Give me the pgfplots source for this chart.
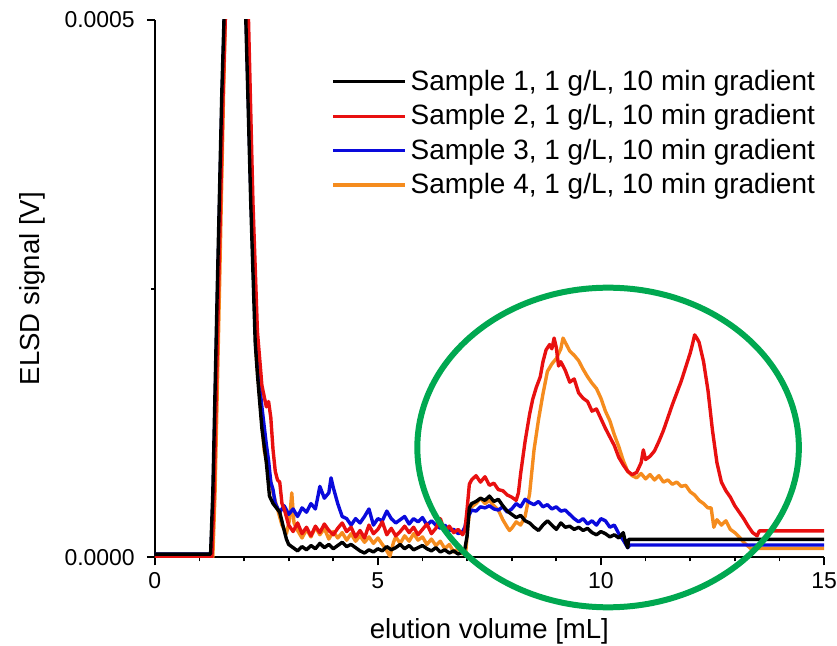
\documentclass[border=0pt]{standalone}
\usepackage{fontspec}
\setmainfont{Liberation Sans}
\usepackage{pgfplots}
\pgfplotsset{compat=1.18}
\definecolor{sred}{RGB}{232,16,16}
\definecolor{sblue}{RGB}{10,10,220}
\definecolor{sorange}{RGB}{245,140,30}
\definecolor{egreen}{RGB}{0,168,80}
\begin{document}
\begin{tikzpicture}
\useasboundingbox (-77.5pt,-44pt) rectangle (341.5pt,279pt);
\begin{axis}[
  scale only axis, width=335pt, height=269pt,
  xmin=0, xmax=15, ymin=0, ymax=0.0005,
  axis x line=bottom, axis y line=left,
  axis line style={line width=0.9pt, -},
  tick align=outside,
  major tick length=4pt, minor tick length=2pt,
  every tick/.style={black, line width=0.9pt},
  xtick={0,5,10,15}, minor x tick num=4,
  ytick={0,0.0005}, minor ytick={0.00025},
  scaled y ticks=false,
  /pgf/number format/assume math mode=true,
  tick label style={font=\fontsize{11.5}{13}\selectfont},
  yticklabel style={xshift=-2.5pt, /pgf/number format/.cd, fixed, fixed zerofill, precision=4},
  xlabel={elution volume [mL]}, ylabel={ELSD signal [V]},
  label style={font=\fontsize{13.8}{16}\selectfont},
  xlabel style={yshift=-8pt},
  ylabel style={yshift=3pt},
  legend style={draw=none, fill=none, at={(0.993,0.915)}, anchor=north east,
    font=\fontsize{14}{16}\selectfont, row sep=1.6pt, inner sep=0pt},
  legend cell align=left,
  legend image code/.code={\draw[#1] (0pt,0pt) -- (32pt,0pt); \path (0pt,0pt) -- (36pt,0pt);},
  every axis plot/.append style={line width=1.7pt, line join=round},
]
\addlegendimage{black, line width=1.6pt}
\addlegendentry{Sample 1, 1 g/L, 10 min gradient}
\addlegendimage{sred, line width=1.6pt}
\addlegendentry{Sample 2, 1 g/L, 10 min gradient}
\addlegendimage{sblue, line width=1.6pt}
\addlegendentry{Sample 3, 1 g/L, 10 min gradient}
\addlegendimage{sorange, line width=1.6pt}
\addlegendentry{Sample 4, 1 g/L, 10 min gradient}

% Sample 4 (orange)
\addplot[sorange, forget plot] coordinates {
(0,0) (1.3,0) (1.35,6e-5) (1.45,2.5e-4) (1.54,4.3e-4) (1.58,5e-4) (1.7,7.8e-4) (1.85,8.5e-4) (1.97,7e-4) (2.07,5e-4) (2.17,3.3e-4) (2.27,1.9e-4) (2.37,1.4e-4) (2.45,1.0e-4) (2.55,8e-5) (2.65,6e-5) (2.75,4.5e-5) (2.85,3.0e-5) (2.95,2.2e-5) (3.02,3.5e-5) (3.07,6e-5) (3.12,3.2e-5)
(3.2,2.5e-5) (3.3,1.8e-5) (3.4,2.6e-5) (3.5,1.9e-5) (3.6,2.8e-5) (3.7,2.1e-5) (3.8,2.7e-5) (3.9,1.7e-5) (4.0,2.4e-5) (4.1,1.8e-5) (4.2,2.3e-5) (4.3,1.6e-5) (4.4,2.2e-5) (4.5,1.5e-5) (4.6,2.0e-5) (4.7,1.4e-5) (4.8,1.9e-5) (4.9,1.3e-5) (5.0,1.8e-5) (5.1,1.2e-5) (5.2,0.6e-5) (5.27,0.1e-5) (5.35,1.4e-5) (5.4,1.9e-5) (5.5,1.3e-5) (5.6,2.0e-5) (5.7,1.5e-5) (5.8,2.2e-5) (5.9,1.6e-5) (6.0,1.9e-5) (6.1,1.2e-5) (6.2,1.7e-5) (6.3,1.1e-5) (6.4,1.5e-5) (6.5,0.8e-5) (6.6,1.2e-5) (6.7,0.5e-5) (6.8,0.8e-5) (6.9,0.3e-5) (6.97,0.5e-5)
(7.02,3.0e-5) (7.07,4.6e-5) (7.2,5.0e-5) (7.3,5.5e-5) (7.4,5.0e-5) (7.5,5.3e-5) (7.6,4.8e-5) (7.7,4.4e-5) (7.8,3.5e-5) (7.9,2.8e-5) (7.95,2.5e-5) (8.0,2.7e-5) (8.1,3.3e-5) (8.2,3.0e-5) (8.3,3.8e-5) (8.4,5.9e-5) (8.5,10.0e-5) (8.6,12.8e-5) (8.7,15.2e-5) (8.8,17.3e-5) (8.9,18.0e-5) (9.0,18.5e-5) (9.1,19.4e-5) (9.15,20.4e-5) (9.2,20.0e-5) (9.3,19.2e-5) (9.4,18.8e-5) (9.5,18.3e-5) (9.6,17.5e-5) (9.7,16.8e-5) (9.8,16.2e-5) (9.9,15.7e-5) (10.0,14.8e-5) (10.1,13.6e-5) (10.2,12.7e-5) (10.3,11.4e-5) (10.4,10.3e-5) (10.5,9.0e-5) (10.6,8.0e-5) (10.7,7.6e-5) (10.8,7.4e-5) (10.9,7.8e-5) (11.0,7.3e-5) (11.1,7.7e-5) (11.2,7.2e-5) (11.3,7.6e-5) (11.4,7.0e-5) (11.5,7.2e-5) (11.6,6.8e-5) (11.7,7.0e-5) (11.8,6.6e-5) (11.9,6.7e-5) (12.0,6.1e-5) (12.1,5.8e-5) (12.2,5.3e-5) (12.3,5.0e-5) (12.4,4.6e-5) (12.47,4.6e-5) (12.53,2.8e-5) (12.6,3.5e-5) (12.7,3.0e-5) (12.8,3.4e-5) (12.9,2.6e-5) (13.0,2.3e-5) (13.1,1.9e-5) (13.2,1.4e-5) (13.28,1.1e-5) (13.35,0.84e-5) (15,0.84e-5)
};
% Sample 3 (blue)
\addplot[sblue, forget plot] coordinates {
(0,3e-6) (1.26,3e-6) (1.31,6e-5) (1.41,2.5e-4) (1.51,4.3e-4) (1.56,5e-4) (1.7,8e-4) (1.85,8.5e-4) (1.95,7e-4) (2.05,5e-4) (2.16,3.3e-4) (2.26,2.1e-4) (2.3,1.8e-4) (2.4,1.4e-4) (2.5,1.05e-4) (2.55,9e-5) (2.6,7e-5) (2.65,6.3e-5) (2.7,5e-5) (2.8,4.2e-5) (2.9,4.8e-5) (3.0,4.0e-5) (3.1,4.5e-5) (3.2,3.8e-5) (3.3,4.6e-5) (3.4,4.2e-5) (3.5,5.0e-5) (3.6,4.5e-5) (3.7,6.6e-5) (3.8,5.5e-5) (3.9,6.0e-5) (3.95,7.4e-5) (4.0,6.5e-5) (4.1,5.0e-5) (4.2,3.8e-5) (4.3,3.6e-5) (4.4,3.0e-5) (4.5,3.6e-5) (4.6,3.2e-5) (4.7,3.8e-5) (4.8,4.5e-5) (4.9,3.0e-5) (5.0,3.6e-5) (5.1,3.4e-5) (5.2,4.3e-5) (5.3,3.6e-5) (5.4,3.2e-5) (5.5,3.5e-5) (5.6,3.8e-5) (5.7,3.1e-5) (5.8,3.6e-5) (5.9,3.3e-5) (6.0,3.7e-5) (6.1,3.0e-5) (6.2,3.4e-5) (6.3,3.0e-5) (6.4,2.7e-5) (6.5,3.0e-5) (6.6,2.5e-5) (6.7,2.6e-5) (6.8,2.2e-5) (6.9,2.4e-5) (6.95,2.8e-5)
(7.0,3.8e-5) (7.05,4.0e-5) (7.1,4.4e-5) (7.2,4.3e-5) (7.3,4.7e-5) (7.4,4.6e-5) (7.5,4.8e-5) (7.6,4.5e-5) (7.7,4.4e-5) (7.8,4.7e-5) (7.9,4.2e-5) (8.0,4.5e-5) (8.1,5.0e-5) (8.2,4.7e-5) (8.3,5.4e-5) (8.4,5.1e-5) (8.5,4.9e-5) (8.6,5.2e-5) (8.7,4.7e-5) (8.8,4.9e-5) (8.9,4.5e-5) (9.0,4.7e-5) (9.1,4.3e-5) (9.2,4.4e-5) (9.3,4.0e-5) (9.4,3.6e-5) (9.5,3.3e-5) (9.6,3.6e-5) (9.7,3.1e-5) (9.8,3.4e-5) (9.9,3.0e-5) (10.0,3.6e-5) (10.1,3.4e-5) (10.2,2.8e-5) (10.3,3.0e-5) (10.4,2.2e-5) (10.5,1.6e-5) (10.6,0.9e-5) (10.65,1.15e-5) (15,1.15e-5)
};
% Sample 2 (red)
\addplot[sred, forget plot] coordinates {
(0,0) (1.28,0) (1.33,6e-5) (1.43,2.5e-4) (1.53,4.3e-4) (1.58,5e-4) (1.7,7.5e-4) (1.85,8.5e-4) (2.0,7e-4) (2.1,5e-4) (2.2,3.3e-4) (2.3,2.1e-4) (2.4,1.6e-4) (2.5,1.4e-4) (2.55,1.45e-4) (2.6,1.3e-4) (2.65,1.0e-4) (2.7,8e-5) (2.75,7.2e-5) (2.8,7e-5) (2.85,5e-5) (2.9,4.5e-5) (3.0,3.0e-5)
(3.1,2.4e-5) (3.2,3.2e-5) (3.3,2.2e-5) (3.4,2.8e-5) (3.5,2.0e-5) (3.6,2.9e-5) (3.7,2.3e-5) (3.8,3.1e-5) (3.9,2.5e-5) (4.0,2.1e-5) (4.1,2.7e-5) (4.2,3.2e-5) (4.3,2.4e-5) (4.4,2.8e-5) (4.5,1.9e-5) (4.6,2.5e-5) (4.7,1.8e-5) (4.8,3.0e-5) (4.9,2.2e-5) (5.0,2.6e-5) (5.1,3.3e-5) (5.2,2.1e-5) (5.3,2.7e-5) (5.4,2.0e-5) (5.5,2.4e-5) (5.6,2.9e-5) (5.7,2.3e-5) (5.8,2.8e-5) (5.9,2.1e-5) (6.0,2.6e-5) (6.1,3.1e-5) (6.2,2.2e-5) (6.3,2.7e-5) (6.4,3.6e-5) (6.5,2.4e-5) (6.6,2.9e-5) (6.7,2.3e-5) (6.8,2.6e-5) (6.9,2.1e-5) (6.95,2.5e-5)
(7.0,4.5e-5) (7.05,6.8e-5) (7.1,7.2e-5) (7.2,7.6e-5) (7.3,7.0e-5) (7.4,7.5e-5) (7.5,6.7e-5) (7.6,6.9e-5) (7.7,6.3e-5) (7.8,6.2e-5) (7.9,5.8e-5) (8.0,5.6e-5) (8.1,5.3e-5) (8.15,6.0e-5) (8.2,7.8e-5) (8.3,10.8e-5) (8.4,13.3e-5) (8.47,14.7e-5) (8.55,15.8e-5) (8.64,16.8e-5) (8.7,18.2e-5) (8.77,19.3e-5) (8.85,19.8e-5) (8.9,19.4e-5) (8.95,20.4e-5) (9.0,19.5e-5) (9.05,17.8e-5) (9.1,18.2e-5) (9.2,17.4e-5) (9.3,16.3e-5) (9.4,16.6e-5) (9.5,15.3e-5) (9.6,14.8e-5) (9.7,14.5e-5) (9.8,13.6e-5) (9.9,13.8e-5) (10.0,12.9e-5) (10.1,12.0e-5) (10.2,11.2e-5) (10.3,10.4e-5) (10.4,9.3e-5) (10.5,8.6e-5) (10.6,8.0e-5) (10.7,7.7e-5) (10.8,7.9e-5) (10.9,8.8e-5) (10.95,10.0e-5) (11.0,9.1e-5) (11.1,9.4e-5) (11.2,9.9e-5) (11.3,10.8e-5) (11.4,11.8e-5) (11.5,13.0e-5) (11.6,14.2e-5) (11.7,15.3e-5) (11.8,16.4e-5) (11.9,17.7e-5) (12.0,19.0e-5) (12.05,19.8e-5) (12.1,20.7e-5) (12.15,20.4e-5) (12.2,20.0e-5) (12.3,18.2e-5) (12.4,15.5e-5) (12.5,11.8e-5) (12.6,8.8e-5) (12.7,7.0e-5) (12.8,6.2e-5) (12.9,5.6e-5) (13.0,4.8e-5) (13.1,4.2e-5) (13.2,3.6e-5) (13.3,2.9e-5) (13.4,2.3e-5) (13.5,2.0e-5) (13.55,2.46e-5) (15,2.46e-5)
};
% Sample 1 (black)
\addplot[black, forget plot] coordinates {
(0,3e-6) (1.25,3e-6) (1.3,6e-5) (1.4,2.5e-4) (1.5,4.3e-4) (1.55,5e-4) (1.7,8e-4) (1.85,8.5e-4) (1.95,7e-4) (2.04,5e-4) (2.15,3.3e-4) (2.25,2.0e-4) (2.3,1.7e-4) (2.4,1.2e-4) (2.5,8.8e-5) (2.57,5.7e-5) (2.65,5.0e-5) (2.8,4.2e-5) (2.9,2.5e-5) (2.95,1.7e-5)
(3.0,1.2e-5) (3.1,0.9e-5) (3.2,0.6e-5) (3.3,1.0e-5) (3.4,0.7e-5) (3.5,1.1e-5) (3.6,0.8e-5) (3.7,1.3e-5) (3.8,0.9e-5) (3.9,1.2e-5) (4.0,0.8e-5) (4.1,1.1e-5) (4.2,1.4e-5) (4.3,1.0e-5) (4.4,1.2e-5) (4.5,0.9e-5) (4.6,0.6e-5) (4.7,0.4e-5) (4.8,0.7e-5) (4.9,0.5e-5) (5.0,0.8e-5) (5.1,0.6e-5) (5.2,1.0e-5) (5.3,0.7e-5) (5.4,0.9e-5) (5.5,1.2e-5) (5.6,0.8e-5) (5.7,1.1e-5) (5.8,0.7e-5) (5.9,0.9e-5) (6.0,1.1e-5) (6.1,0.8e-5) (6.2,0.6e-5) (6.3,0.9e-5) (6.4,0.5e-5) (6.5,0.7e-5) (6.6,0.4e-5) (6.7,0.6e-5) (6.8,0.3e-5) (6.9,0.5e-5) (6.95,0.8e-5)
(7.0,2.0e-5) (7.05,4.6e-5) (7.1,5.0e-5) (7.2,5.2e-5) (7.3,5.5e-5) (7.4,5.3e-5) (7.5,5.7e-5) (7.6,5.2e-5) (7.7,5.4e-5) (7.8,4.8e-5) (7.9,4.3e-5) (8.0,4.0e-5) (8.1,3.7e-5) (8.2,3.9e-5) (8.3,3.4e-5) (8.4,3.2e-5) (8.5,2.8e-5) (8.6,2.5e-5) (8.7,3.0e-5) (8.8,3.4e-5) (8.9,3.0e-5) (9.0,2.6e-5) (9.1,3.2e-5) (9.2,2.8e-5) (9.3,2.9e-5) (9.4,2.6e-5) (9.5,2.8e-5) (9.6,2.5e-5) (9.7,2.7e-5) (9.8,2.3e-5) (9.9,2.1e-5) (10.0,2.4e-5) (10.1,2.2e-5) (10.2,1.9e-5) (10.3,2.1e-5) (10.4,1.8e-5) (10.5,2.3e-5) (10.55,1.4e-5) (10.6,0.9e-5) (10.62,1.67e-5) (15,1.67e-5)
};
\coordinate (ec) at (axis cs:10.16,1.022e-4);
\end{axis}
\draw[egreen, line width=3pt] (ec) ellipse [x radius=95.5pt, y radius=80pt];
\end{tikzpicture}
\end{document}
